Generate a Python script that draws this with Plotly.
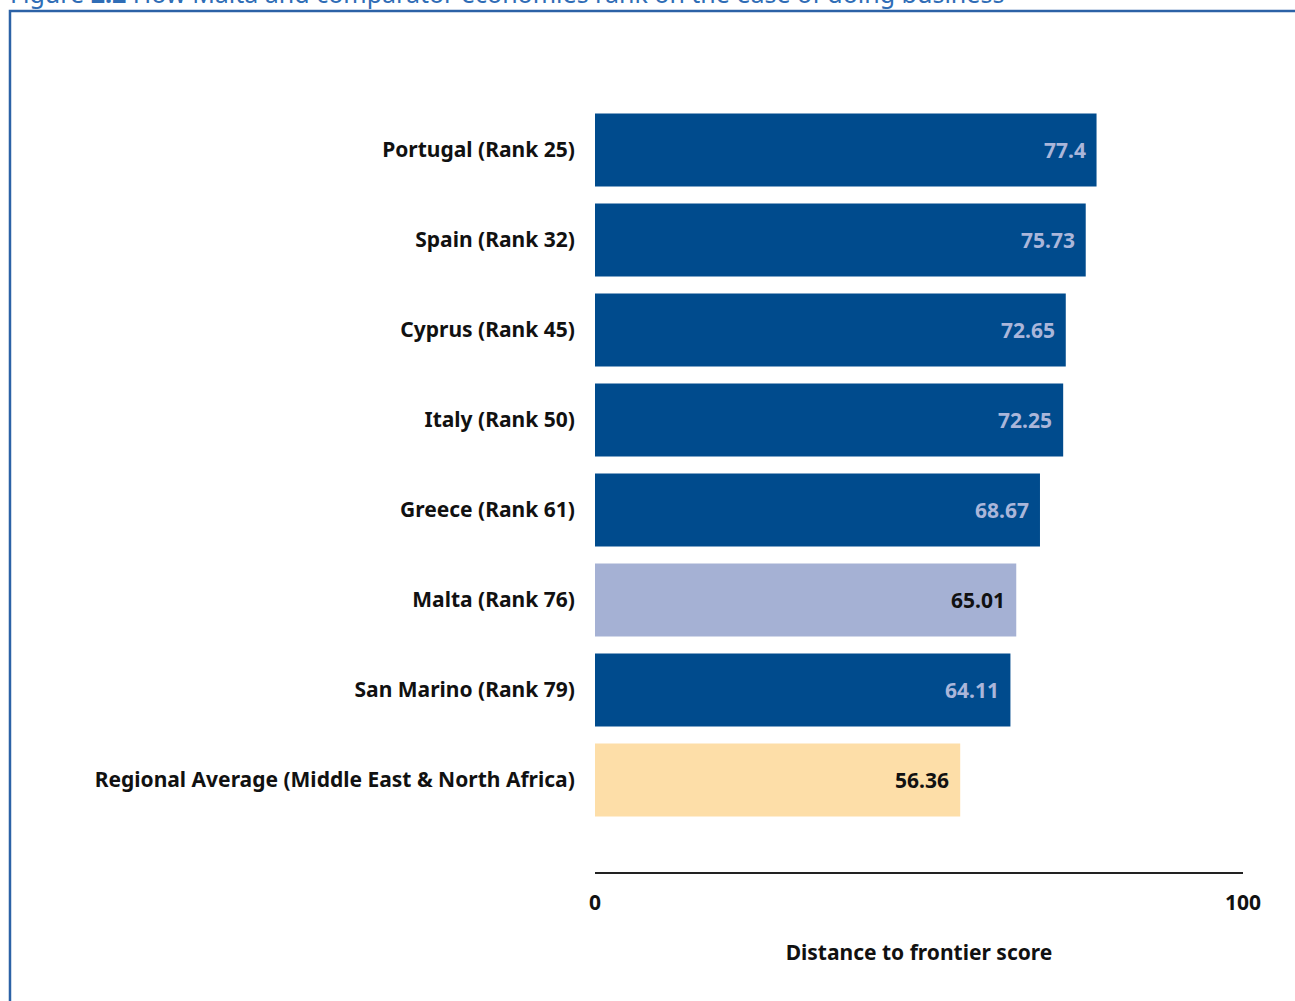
import plotly.graph_objects as go

# Distance to frontier scores, ordered bottom to top on the chart
categories = [
    "Regional Average (Middle East & North Africa)",
    "San Marino (Rank 79)",
    "Malta (Rank 76)",
    "Greece (Rank 61)",
    "Italy (Rank 50)",
    "Cyprus (Rank 45)",
    "Spain (Rank 32)",
    "Portugal (Rank 25)",
]
scores = [56.36, 64.11, 65.01, 68.67, 72.25, 72.65, 75.73, 77.4]
score_labels = ["56.36", "64.11", "65.01", "68.67", "72.25", "72.65", "75.73", "77.4"]

DARK = "#004b8d"
bar_colors = ["#fddea8", DARK, "#a5b1d4", DARK, DARK, DARK, DARK, DARK]
label_colors = ["#111111", "#aab6da", "#111111", "#aab6da", "#aab6da", "#aab6da", "#aab6da", "#aab6da"]

FONT = "Noto Sans"
FS = 21

fig = go.Figure(
    go.Bar(
        x=scores,
        y=categories,
        orientation="h",
        marker=dict(color=bar_colors, line=dict(width=0)),
        hoverinfo="skip",
    )
)

# value labels just inside the end of each bar
for cat, val, txt, col in zip(categories, scores, score_labels, label_colors):
    fig.add_annotation(
        x=val, y=cat, text=f"<b>{txt}</b>", showarrow=False,
        xanchor="right", yanchor="middle", xshift=-9,
        font=dict(family=FONT, size=FS, color=col),
    )

# figure caption along the top edge
fig.add_annotation(
    xref="paper", yref="paper", x=-0.906, y=1.146,
    xanchor="left", yanchor="middle", showarrow=False,
    text="Figure <b>2.2</b> How Malta and comparator economies rank on the ease of doing business",
    font=dict(family=FONT, size=25, color="#2f6db6"),
)

# surrounding frame
fig.add_shape(
    type="rect", xref="paper", yref="paper",
    x0=-0.9028, x1=1.1, y0=-0.2, y1=1.1226,
    line=dict(color="#2c62a6", width=2.5), fillcolor="rgba(0,0,0,0)", layer="below",
)

fig.update_layout(
    width=1295, height=1001,
    margin=dict(l=595, r=52, t=105, b=129),
    paper_bgcolor="white", plot_bgcolor="white",
    bargap=0.19,
    showlegend=False,
    font=dict(family=FONT, color="#111111"),
    xaxis=dict(
        range=[0, 100], tickvals=[0, 100], ticktext=["<b>0</b>", "<b>100</b>"],
        showgrid=False, zeroline=False,
        showline=True, linecolor="#222222", linewidth=2,
        ticks="outside", ticklen=11, tickcolor="rgba(0,0,0,0)",
        tickfont=dict(family=FONT, size=FS, color="#111111"),
        title=dict(text="<b>Distance to frontier score</b>", standoff=30,
                   font=dict(family=FONT, size=FS, color="#111111")),
    ),
    yaxis=dict(
        range=[-1.022, 7.5],
        showgrid=False, zeroline=False, showline=False,
        ticks="outside", ticklen=15, tickcolor="rgba(0,0,0,0)",
        tickfont=dict(family=FONT, size=FS, color="#111111"),
        tickprefix="<b>", ticksuffix="</b>",
    ),
)

fig.write_html("out.html")
